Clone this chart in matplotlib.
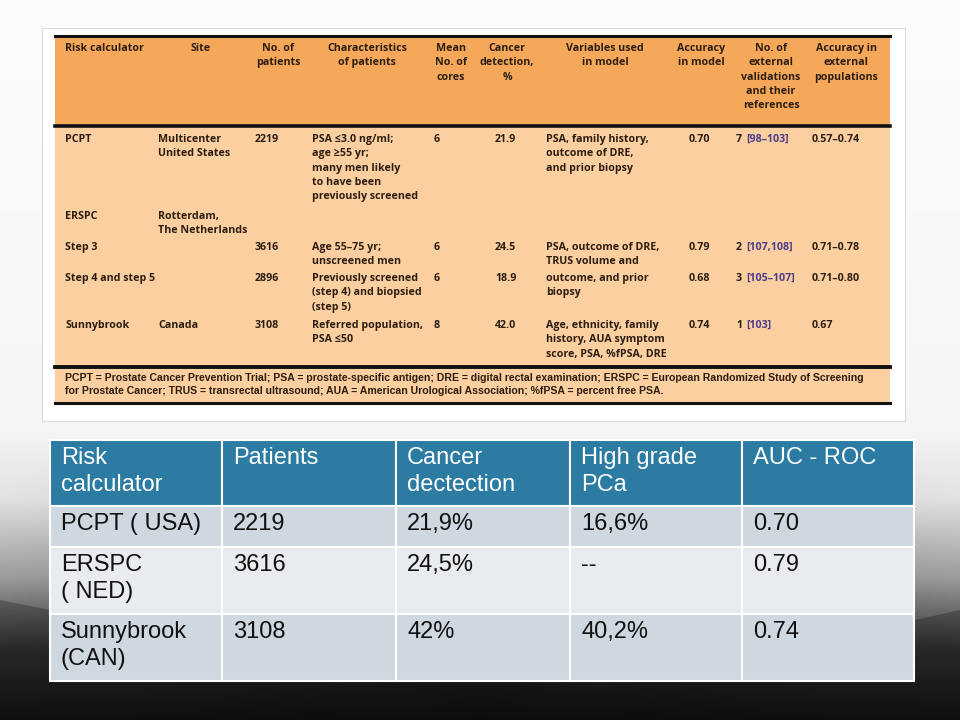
import numpy as np
import matplotlib.pyplot as plt
from matplotlib.patches import Rectangle, Polygon

# source table (image on the slide)
src_headers = [
    "Risk calculator", "Site", "No. of\npatients", "Characteristics\nof patients",
    "Mean\nNo. of\ncores", "Cancer\ndetection,\n%", "Variables used\nin model",
    "Accuracy\nin model", "No. of\nexternal\nvalidations\nand their\nreferences",
    "Accuracy in\nexternal\npopulations",
]
src_rows = [
    ["PCPT", "Multicenter\nUnited States", "2219",
     "PSA \u22643.0 ng/ml;\nage \u226555 yr;\nmany men likely\nto have been\npreviously screened",
     "6", "21.9", "PSA, family history,\noutcome of DRE,\nand prior biopsy", "0.70",
     "7 [98\u2013103]", "0.57\u20130.74"],
    ["ERSPC", "Rotterdam,\nThe Netherlands", "", "", "", "", "", "", "", ""],
    ["Step 3", "", "3616", "Age 55\u201375 yr;\nunscreened men", "6", "24.5",
     "PSA, outcome of DRE,\nTRUS volume and", "0.79", "2 [107,108]", "0.71\u20130.78"],
    ["Step 4 and step 5", "", "2896", "Previously screened\n(step 4) and biopsied\n(step 5)",
     "6", "18.9", "outcome, and prior\nbiopsy", "0.68", "3 [105\u2013107]", "0.71\u20130.80"],
    ["Sunnybrook", "Canada", "3108", "Referred population,\nPSA \u226450", "8", "42.0",
     "Age, ethnicity, family\nhistory, AUA symptom\nscore, PSA, %fPSA, DRE", "0.74",
     "1 [103]", "0.67"],
]
src_footnote = ("PCPT = Prostate Cancer Prevention Trial; PSA = prostate-specific antigen; "
                "DRE = digital rectal examination; ERSPC = European Randomized Study of Screening\n"
                "for Prostate Cancer; TRUS = transrectal ultrasound; AUA = American Urological "
                "Association; %fPSA = percent free PSA.")

# summary table
sum_headers = ["Risk\ncalculator", "Patients", "Cancer\ndectection", "High grade\nPCa", "AUC - ROC"]
sum_rows = [
    ["PCPT ( USA)", "2219", "21,9%", "16,6%", "0.70"],
    ["ERSPC\n( NED)", "3616", "24,5%", "--", "0.79"],
    ["Sunnybrook\n(CAN)", "3108", "42%", "40,2%", "0.74"],
]


def main():
    fig = plt.figure(figsize=(9.6, 7.2), dpi=100)
    ax = fig.add_axes([0, 0, 1, 1])
    ax.set_xlim(0, 960)
    ax.set_ylim(720, 0)
    ax.axis("off")

    # slide background: light top, dark bottom, darker toward the centre bottom
    yy = np.linspace(0, 720, 360)
    xx = np.linspace(0, 960, 480)
    X, Y = np.meshgrid(xx, yy)
    shade = np.interp(Y, [0, 430, 500, 580, 650, 720], [0.985, 0.96, 0.88, 0.6, 0.2, 0.06])
    weight = np.clip((Y - 440) / 200, 0, 1)
    edge = 1 - 0.3 * weight * (1 - np.abs(X - 480) / 480)
    shade = np.clip(shade * edge, 0, 1)
    ax.imshow(shade, extent=[0, 960, 720, 0], cmap="gray", vmin=0, vmax=1,
              aspect="auto", zorder=0)
    ax.add_patch(Polygon([[0, 600], [250, 650], [600, 690], [960, 610], [960, 720], [0, 720]],
                         closed=True, color="#111111", alpha=0.3, lw=0, zorder=1))

    # --- image of source table ---
    ax.add_patch(Rectangle((42, 28), 863, 393, fc="white", ec="#dddddd", lw=0.8, zorder=2))
    ax.add_patch(Rectangle((55, 36), 835, 90, fc="#f5a75a", lw=0, zorder=3))
    ax.add_patch(Rectangle((55, 126), 835, 241, fc="#fbcf9f", lw=0, zorder=3))
    ax.add_patch(Rectangle((55, 367), 835, 36, fc="#fbcf9f", lw=0, zorder=3))
    for yl, lw in [(36, 2.2), (126, 2.6), (367, 2.8), (403, 2.2)]:
        ax.plot([55, 890], [yl, yl], color="#111111", lw=lw, zorder=4)

    tcol = "#2b1d10"
    fam = ["Open Sans", "DejaVu Sans"]
    fs = 7.7
    ls = 1.42
    hx = [65, 201, 278, 367, 451, 507, 605, 701, 771, 846]
    ha = ["left"] + ["center"] * 9
    for x, h, a in zip(hx, src_headers, ha):
        ax.text(x, 43, h, ha=a, va="top", fontsize=fs, fontweight="bold", color=tcol,
                family=fam, linespacing=ls, zorder=5)

    bx = [65, 158, 255, 312, 434, 495, 546, 689, 736, 812]
    row_y = [134, 211, 242, 273, 320]
    for ry, row in zip(row_y, src_rows):
        for x, cell in zip(bx, row):
            if not cell:
                continue
            if "[" in cell:
                num, ref = cell.split(" ", 1)
                ax.text(x, ry, num, ha="left", va="top", fontsize=fs, fontweight="bold",
                        color=tcol, family=fam, zorder=5)
                ax.text(x + 10, ry, ref, ha="left", va="top", fontsize=fs, fontweight="bold",
                        color="#4b3c8c", family=fam, zorder=5)
                continue
            ax.text(x, ry, cell, ha="left", va="top", fontsize=fs, fontweight="bold",
                    color=tcol, family=fam, linespacing=ls, zorder=5)

    ax.text(65, 373, src_footnote, ha="left", va="top", fontsize=7.6, fontweight="bold",
            color=tcol, family=["Liberation Sans", "DejaVu Sans"], linespacing=1.4, zorder=5)

    # --- summary table ---
    col_edges = [50, 222, 396, 570, 742, 914]
    row_edges = [440, 506, 547, 614, 681]
    row_fc = ["#2b7ba2", "#cfd8e1", "#e8ecf0", "#cfd8e1"]
    table = [sum_headers] + sum_rows
    for r, cells in enumerate(table):
        y0, y1 = row_edges[r], row_edges[r + 1]
        for c, cell in enumerate(cells):
            x0, x1 = col_edges[c], col_edges[c + 1]
            ax.add_patch(Rectangle((x0, y0), x1 - x0, y1 - y0, fc=row_fc[r],
                                   ec="white", lw=1.5, zorder=3))
            ax.text(x0 + 11, y0 + 7, cell, ha="left", va="top", fontsize=17,
                    color="white" if r == 0 else "#111111",
                    family=["Liberation Sans", "DejaVu Sans"],
                    linespacing=1.32, zorder=5)

    fig.savefig("out.png", dpi=100)


if __name__ == "__main__":
    main()
